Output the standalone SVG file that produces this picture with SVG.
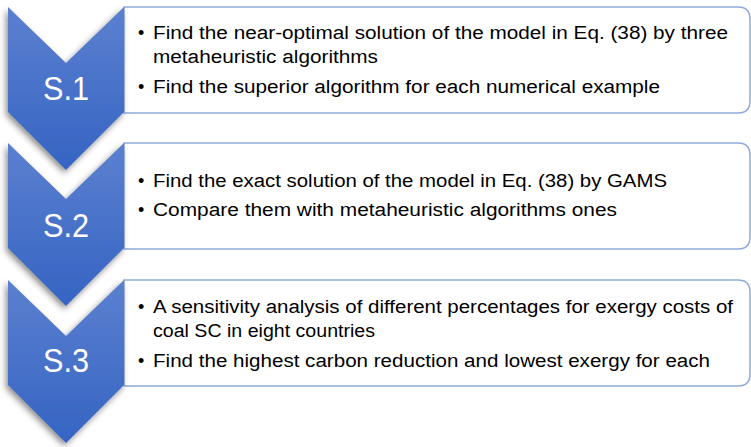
<svg xmlns="http://www.w3.org/2000/svg" width="751" height="447" viewBox="0 0 751 447">
<defs>
<linearGradient id="g" x1="0" y1="0" x2="0" y2="1">
<stop offset="0" stop-color="#5c80cf"/>
<stop offset="1" stop-color="#3564c3"/>
</linearGradient>
<filter id="sh" x="-30%" y="-20%" width="160%" height="140%">
<feDropShadow dx="-2" dy="3" stdDeviation="3" flood-color="#000" flood-opacity="0.45"/>
</filter>
<path id="chev" d="M0,0 L58,56 L116,0 L116,105 L58,163 L0,105 Z"/>
<path id="box" d="M124,0 H738 Q750,0 750,12 V94 Q750,106 738,106 H124 Z"/>
</defs>
<style>
.box{fill:#fff;stroke:#8eaadb;stroke-width:1.5}
.chev{fill:url(#g);filter:url(#sh)}
.lbl{font-family:"Liberation Sans",Arial,sans-serif;font-size:33px;fill:#fff;text-anchor:middle}
.t{font-family:"Liberation Sans",Arial,sans-serif;font-size:18px;fill:#000}
</style>
<g id="connectors"></g>
<g id="box1"><use href="#box" class="box" y="7"/>
<text class="t" x="138" y="39">•</text><text class="t" x="153" y="39" textLength="575" lengthAdjust="spacingAndGlyphs">Find the near-optimal solution of the model in Eq. (38) by three</text>
<text class="t" x="153" y="63" textLength="225" lengthAdjust="spacingAndGlyphs">metaheuristic algorithms</text>
<text class="t" x="138" y="93">•</text><text class="t" x="153" y="93" textLength="507" lengthAdjust="spacingAndGlyphs">Find the superior algorithm for each numerical example</text>
</g>
<g id="box2"><use href="#box" class="box" y="143"/>
<text class="t" x="138" y="187">•</text><text class="t" x="153" y="187" textLength="514" lengthAdjust="spacingAndGlyphs">Find the exact solution of the model in Eq. (38) by GAMS</text>
<text class="t" x="138" y="216">•</text><text class="t" x="153" y="216" textLength="464" lengthAdjust="spacingAndGlyphs">Compare them with metaheuristic algorithms ones</text>
</g>
<g id="box3"><use href="#box" class="box" y="280"/>
<text class="t" x="138" y="313">•</text><text class="t" x="153" y="313" textLength="580" lengthAdjust="spacingAndGlyphs">A sensitivity analysis of different percentages for exergy costs of</text>
<text class="t" x="153" y="337" textLength="222" lengthAdjust="spacingAndGlyphs">coal SC in eight countries</text>
<text class="t" x="138" y="367">•</text><text class="t" x="153" y="367" textLength="557" lengthAdjust="spacingAndGlyphs">Find the highest carbon reduction and lowest exergy for each</text>
</g>
<g id="s1"><use href="#chev" class="chev" x="8" y="7"/><text class="lbl" x="66" y="100" textLength="46" lengthAdjust="spacingAndGlyphs">S.1</text></g>
<g id="s2"><use href="#chev" class="chev" x="8" y="143"/><text class="lbl" x="66" y="237" textLength="46" lengthAdjust="spacingAndGlyphs">S.2</text></g>
<g id="s3"><use href="#chev" class="chev" x="8" y="280"/><text class="lbl" x="66" y="372" textLength="46" lengthAdjust="spacingAndGlyphs">S.3</text></g>
</svg>
